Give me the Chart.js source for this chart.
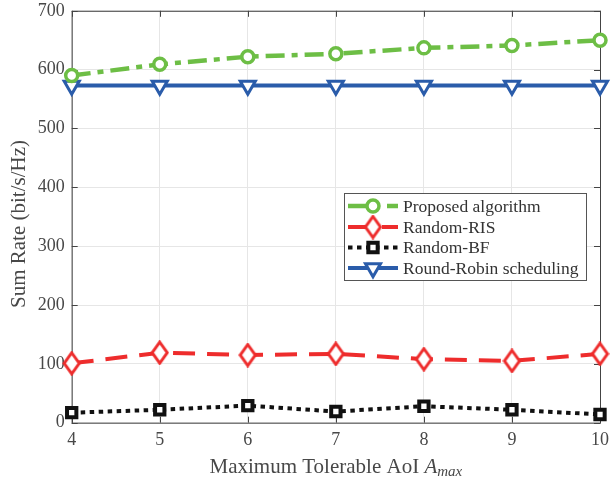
<!DOCTYPE html>
<html>
<head>
<meta charset="utf-8">
<script src="https://cdn.jsdelivr.net/npm/chart.js@4.4.1/dist/chart.umd.min.js"></script>
<style>
  html, body { margin: 0; padding: 0; background: #fff; overflow: hidden; }
  #wrap { width: 616px; height: 490px; margin-top: -7px; }
</style>
</head>
<body>
<div id="wrap"><canvas id="chart"></canvas></div>
<script>
// Sum rate vs maximum tolerable AoI
const aoiLevels = [4, 5, 6, 7, 8, 9, 10];
const proposedRate = [590, 609, 622, 627, 637, 641, 650];
const randomRisRate = [101, 119, 115, 117, 108, 105, 117];
const randomBfRate = [17, 22, 29, 19, 28, 22, 14];
const roundRobinRate = [573, 573, 573, 573, 573, 573, 573];
const yTicks = [0, 100, 200, 300, 400, 500, 600, 700];

const FONT = 'Liberation Serif, Times New Roman, serif';
const TEXT = '#484848';
const FRAME = '#444444';
const OFF = 7; // canvas is shifted up by this many px

// tall diamond marker (MATLAB style)
function diamondMarker(color) {
  const c = document.createElement('canvas');
  c.width = 19; c.height = 25;
  const g = c.getContext('2d');
  g.beginPath();
  g.moveTo(9.5, 2); g.lineTo(17, 12.5); g.lineTo(9.5, 23); g.lineTo(2, 12.5);
  g.closePath();
  g.fillStyle = '#fff'; g.fill();
  g.lineWidth = 3; g.strokeStyle = color; g.lineJoin = 'miter'; g.stroke();
  return c;
}

const series = [
  { label: 'Proposed algorithm', data: proposedRate, color: '#6DBE45', dash: [19, 7, 6, 7], width: 4.5,
    pointStyle: 'circle', radius: 6, pbw: 3.5 },
  { label: 'Random-RIS', data: randomRisRate, color: '#EE2C2C', dash: [22, 12], width: 4,
    pointStyle: diamondMarker('#EE2C2C'), radius: 10, pbw: 3 },
  { label: 'Random-BF', data: randomBfRate, color: '#111111', dash: [4.5, 4.5], width: 4,
    pointStyle: 'rect', radius: 6.6, pbw: 4 },
  { label: 'Round-Robin scheduling', data: roundRobinRate, color: '#2A5CAA', dash: [], width: 4,
    pointStyle: 'triangle', radius: 8.7, pbw: 3, rotation: 180 }
];

const framePlugin = {
  id: 'frame',
  beforeDatasetsDraw(chart) {
    const { ctx, chartArea: a, scales } = chart;
    ctx.save();
    ctx.strokeStyle = FRAME;
    ctx.lineWidth = 1;
    ctx.strokeRect(a.left + 0.5, a.top + 0.5, a.right - a.left, a.bottom - a.top);
    ctx.beginPath();
    const t = 6;
    scales.x.ticks.forEach((tk, i) => {
      const x = Math.round(scales.x.getPixelForTick(i)) + 0.5;
      ctx.moveTo(x, a.bottom); ctx.lineTo(x, a.bottom - t);
      ctx.moveTo(x, a.top); ctx.lineTo(x, a.top + t);
    });
    scales.y.ticks.forEach(tk => {
      const y = Math.round(scales.y.getPixelForValue(tk.value)) + 0.5;
      ctx.moveTo(a.left, y); ctx.lineTo(a.left + t, y);
      ctx.moveTo(a.right, y); ctx.lineTo(a.right - t, y);
    });
    ctx.stroke();
    ctx.restore();
  },
  afterDraw(chart) {
    const { ctx, chartArea: a } = chart;
    ctx.save();
    // y axis title
    ctx.save();
    ctx.translate(19, 224 + OFF);
    ctx.rotate(-Math.PI / 2);
    ctx.fillStyle = TEXT;
    ctx.font = '21px ' + FONT;
    ctx.textAlign = 'center';
    ctx.textBaseline = 'middle';
    ctx.fillText('Sum Rate (bit/s/Hz)', 0, 0);
    ctx.restore();

    // x axis title with math symbol
    const main = 'Maximum Tolerable AoI ';
    const sym = 'A', sub = 'max';
    ctx.textBaseline = 'alphabetic';
    ctx.font = '21px ' + FONT;
    const w1 = ctx.measureText(main).width;
    ctx.font = 'italic 21px ' + FONT;
    const w2 = ctx.measureText(sym).width;
    ctx.font = 'italic 15px ' + FONT;
    const w3 = ctx.measureText(sub).width;
    let x = (a.left + a.right) / 2 - (w1 + w2 + w3) / 2;
    const base = 473 + OFF;
    ctx.fillStyle = TEXT;
    ctx.font = '21px ' + FONT;
    ctx.fillText(main, x, base);
    x += w1;
    ctx.font = 'italic 21px ' + FONT;
    ctx.fillText(sym, x, base);
    x += w2;
    ctx.font = 'italic 15px ' + FONT;
    ctx.fillText(sub, x, base + 3);

    // legend box
    const lx = 344, ly = 193 + OFF, lw = 242, lh = 87;
    ctx.fillStyle = '#fff';
    ctx.fillRect(lx, ly, lw, lh);
    ctx.strokeStyle = '#555';
    ctx.lineWidth = 1;
    ctx.strokeRect(lx + 0.5, ly + 0.5, lw, lh);
    const rows = [206, 227, 247.5, 268].map(r => r + OFF);
    chart.data.datasets.forEach((ds, i) => {
      const y = rows[i];
      ctx.save();
      ctx.strokeStyle = ds.borderColor;
      ctx.lineWidth = ds.borderWidth;
      ctx.setLineDash(ds.borderDash);
      ctx.beginPath();
      ctx.moveTo(348, y); ctx.lineTo(398, y);
      ctx.stroke();
      ctx.restore();
      ctx.save();
      ctx.fillStyle = '#fff';
      ctx.strokeStyle = ds.pointBorderColor;
      ctx.lineWidth = ds.pointBorderWidth;
      Chart.helpers.drawPoint(ctx, {
        pointStyle: ds.pointStyle, radius: ds.pointRadius, rotation: ds.pointRotation || 0,
        borderWidth: ds.pointBorderWidth
      }, 373, y);
      ctx.restore();
      ctx.fillStyle = '#333';
      ctx.font = '17.5px ' + FONT;
      ctx.textBaseline = 'middle';
      ctx.fillText(ds.label, 403, y + 1);
    });
    ctx.restore();
  }
};

new Chart(document.getElementById('chart'), {
  type: 'line',
  data: {
    labels: aoiLevels,
    datasets: series.map(s => ({
      label: s.label,
      data: s.data,
      borderColor: s.color,
      borderWidth: s.width,
      borderDash: s.dash,
      pointStyle: s.pointStyle,
      pointRadius: s.radius,
      pointHoverRadius: s.radius,
      pointBorderWidth: s.pbw,
      pointBorderColor: s.color,
      pointBackgroundColor: '#ffffff',
      pointRotation: s.rotation || 0,
      tension: 0,
      clip: false
    }))
  },
  options: {
    responsive: true,
    maintainAspectRatio: false,
    animation: false,
    layout: { padding: { top: 4, right: 0, left: 0, bottom: 0 } },
    plugins: { legend: { display: false }, tooltip: { enabled: false } },
    scales: {
      x: {
        type: 'category',
        offset: false,
        grid: { color: '#E6E6E6', drawTicks: false },
        border: { display: false },
        ticks: { color: TEXT, font: { family: FONT, size: 18 }, padding: 7, maxRotation: 0 },
        afterFit(scale) { scale.height = 60.3; }
      },
      y: {
        min: 0,
        max: 700,
        afterBuildTicks(scale) { scale.ticks = yTicks.map(v => ({ value: v })); },
        grid: { color: '#E6E6E6', drawTicks: false },
        border: { display: false },
        ticks: { color: TEXT, font: { family: FONT, size: 18 }, padding: 7 },
        afterFit(scale) { scale.width = 71.7; }
      }
    }
  },
  plugins: [framePlugin]
});
</script>
</body>
</html>
